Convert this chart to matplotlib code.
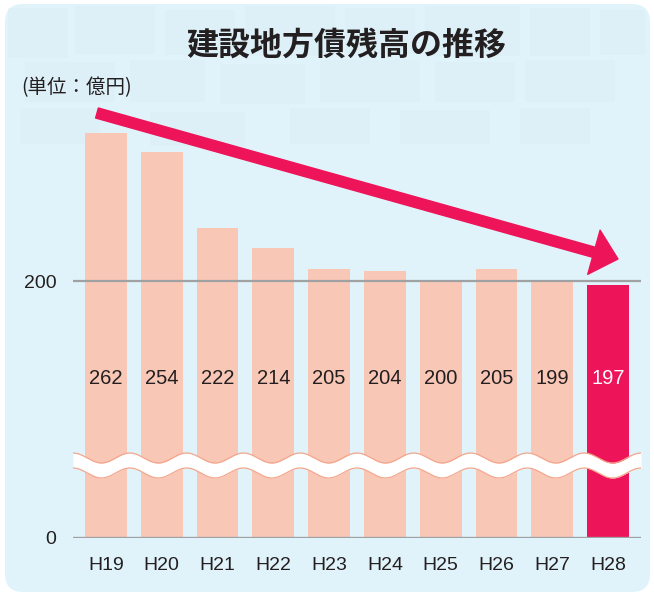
import numpy as np
import matplotlib.pyplot as plt
from matplotlib.patches import FancyBboxPatch, FancyArrowPatch, Rectangle, ArrowStyle
from matplotlib.transforms import blended_transform_factory

plt.rcParams['font.family'] = ['Liberation Sans', 'Noto Sans CJK JP']

# data
years = ['H19', 'H20', 'H21', 'H22', 'H23', 'H24', 'H25', 'H26', 'H27', 'H28']
balances = [262, 254, 222, 214, 205, 204, 200, 205, 199, 197]
y_ticks = [0, 200]

title = '建設地方債残高の推移'
unit = '(単位：億円)'

light = '#F9C7B6'
accent = '#EE1459'
panel = '#E1F3FA'
grid_gray = '#A0A1A3'
text_dark = '#231F20'


# broken axis: values below 200 are squeezed, above 200 stretched
def forward(v):
    v = np.asarray(v, dtype=float)
    return np.where(v <= 200, v * 1.285, 257 + (v - 200) * 2.39)


def inverse(p):
    p = np.asarray(p, dtype=float)
    return np.where(p <= 257, p / 1.285, 200 + (p - 257) / 2.39)


fig = plt.figure(figsize=(6.54, 5.95), dpi=100)

# background layer in image pixel coordinates
bg = fig.add_axes([0, 0, 1, 1])
bg.set_xlim(0, 654)
bg.set_ylim(595, 0)
bg.axis('off')
bg.add_patch(FancyBboxPatch((5, 4), 645, 588, boxstyle='round,pad=0,rounding_size=18',
                            fc=panel, ec='none'))
# faint blocks at the top of the panel
blocks = [(8, 8, 60, 50), (75, 6, 80, 48), (165, 10, 70, 45), (245, 6, 90, 50),
          (345, 8, 70, 46), (425, 6, 95, 50), (530, 8, 60, 48), (600, 10, 45, 45),
          (25, 62, 90, 40), (130, 60, 75, 42), (220, 64, 85, 40), (320, 60, 100, 42),
          (435, 62, 80, 40), (525, 60, 90, 42),
          (20, 108, 80, 36), (150, 112, 95, 34), (290, 108, 80, 36), (400, 110, 90, 34),
          (520, 108, 70, 36)]
for bx, by, bw, bh in blocks:
    bg.add_patch(Rectangle((bx, by), bw, bh, fc='#D6EBF4', ec='none', alpha=0.35))

bg.text(346, 46, title, ha='center', va='center', fontsize=23, fontweight='bold',
        color=text_dark, family=['Noto Sans CJK JP'])
bg.text(21, 88, unit, ha='left', va='center', fontsize=14, color=text_dark,
        family=['Noto Sans CJK JP'])

# main chart
ax = fig.add_axes([73 / 654, 57 / 595, 568 / 654, 443 / 595])
ax.patch.set_alpha(0)
ax.set_yscale('function', functions=(forward, inverse))

x = np.arange(len(years))
colors = [light] * (len(years) - 1) + [accent]
ax.bar(x, balances, width=0.75, color=colors, zorder=2)

ax.axhline(200, color=grid_gray, lw=1.6, zorder=3)
ax.axhline(0, color=grid_gray, lw=2.4, zorder=3)

lab_tr = blended_transform_factory(ax.transData, ax.transAxes)
for i, v in enumerate(balances):
    ax.text(i, 0.361, str(v), transform=lab_tr, ha='center', va='center',
            fontsize=14.5, color='white' if i == len(years) - 1 else text_dark, zorder=5)

# wavy break band
f = np.linspace(0, 1, 800)
wave = -5 * np.cos(2 * np.pi * 10 * f)
top_px = 458 + wave
bot_px = 473 + wave
top = (538 - top_px) / 443
bot = (538 - bot_px) / 443
ax.fill_between(f, bot, top, transform=ax.transAxes, color='white', lw=0, zorder=4)
ax.plot(f, top, transform=ax.transAxes, color='#F4A68C', lw=0.9, zorder=4)
ax.plot(f, bot, transform=ax.transAxes, color='#F4A68C', lw=0.9, zorder=4)

ax.set_xlim(-0.59, 9.59)
ax.set_ylim(0, float(inverse(443)))
ax.set_xticks(x, years)
ax.set_yticks(y_ticks, [str(t) for t in y_ticks])
ax.tick_params(axis='x', length=0, pad=14, labelsize=14, labelcolor=text_dark)
ax.tick_params(axis='y', length=0, pad=12, labelsize=14, labelcolor=text_dark)
for s in ax.spines.values():
    s.set_visible(False)

# big trend arrow
arrow = FancyArrowPatch((97, 113), (618, 259),
                        arrowstyle=ArrowStyle.Simple(head_length=18, head_width=33, tail_width=7.5),
                        mutation_scale=1, shrinkA=0, shrinkB=0, color=accent,
                        transform=bg.transData, clip_on=False, zorder=6)
ax.add_artist(arrow)

fig.savefig('out.png', dpi=100)
